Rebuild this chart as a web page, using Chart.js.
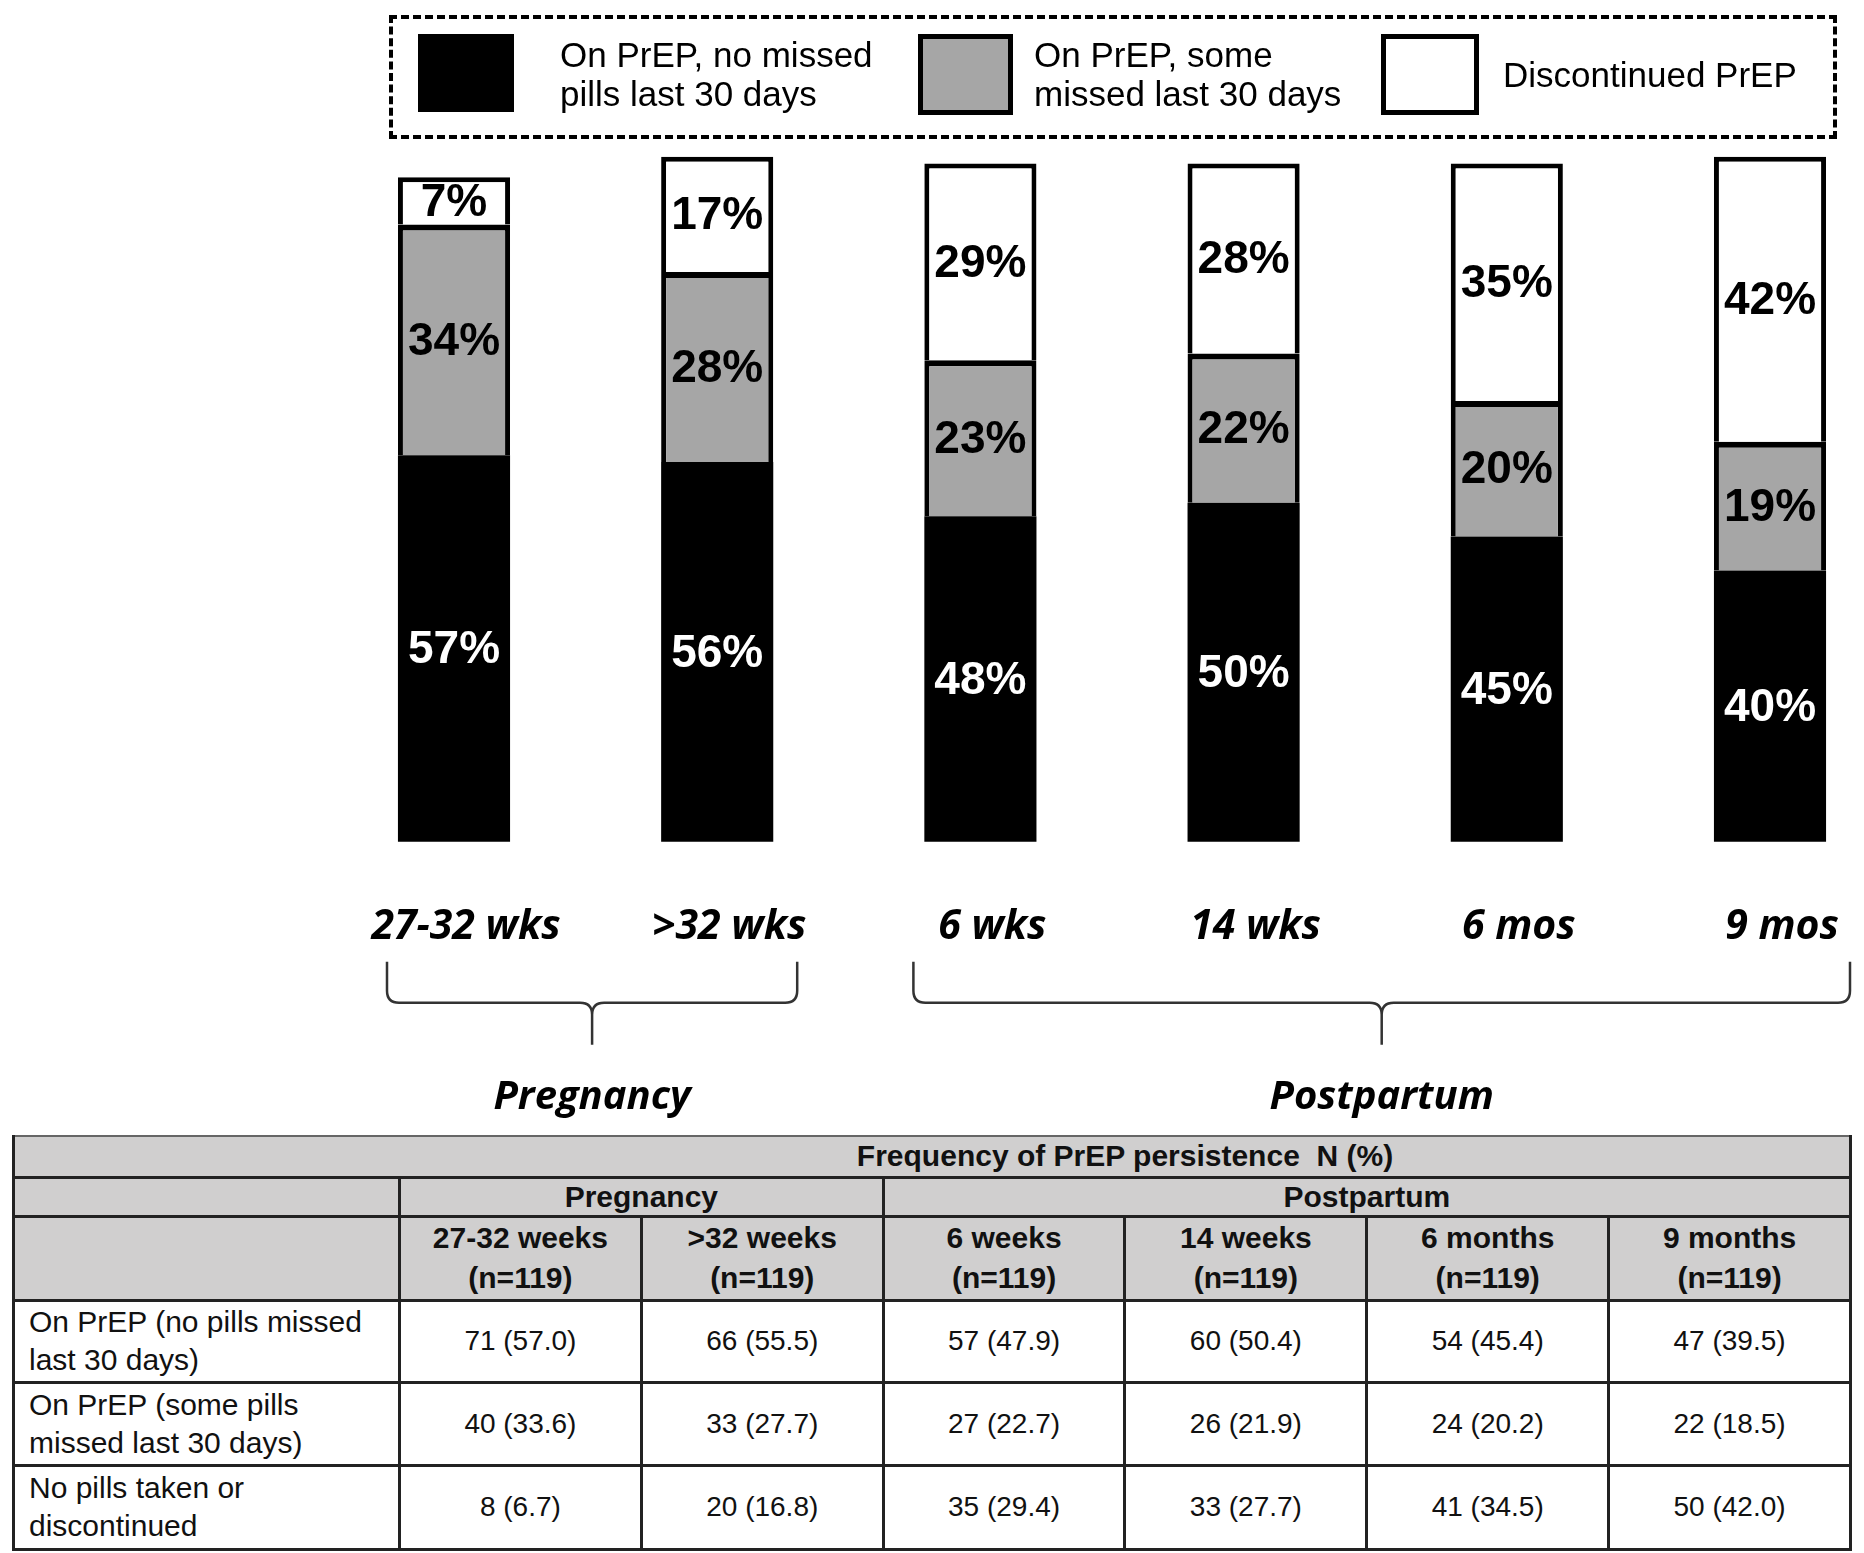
<!DOCTYPE html>
<html>
<head>
<meta charset="utf-8">
<script src="https://cdn.jsdelivr.net/npm/chart.js@4.4.0/dist/chart.umd.min.js"></script>
<style>
    body { margin: 0; background: #fff; }
    #wrap { position: relative; width: 1864px; height: 1553px; overflow: hidden; }
    #chartBox { position: absolute; left: 0; top: 0; width: 1864px; height: 1135px; }
    #legend {
        position: absolute; left: 389px; top: 15px; width: 1448px; height: 124px;
        box-sizing: border-box; border: 4px dashed #000;
        font-family: 'Liberation Sans', Arial, sans-serif; font-size: 35px; color: #000;
    }
    #legend .sw { position: absolute; box-sizing: border-box; }
    #legend .txt { position: absolute; line-height: 39px; white-space: pre; }
    #tbl {
        position: absolute; left: 12px; top: 1135px; width: 1840px;
        border-collapse: collapse; table-layout: fixed;
        font-family: 'Liberation Sans', Arial, sans-serif; color: #111;
    }
    #tbl td { border: 3px solid #222; text-align: center; padding: 0; font-size: 28px; line-height: 36px; }
    #tbl tr.hd td { background: #d0cfcf; font-weight: bold; font-size: 30px; line-height: 32px; }
    #tbl tr.hd2 td { line-height: 40px; }
    #tbl td.rl { text-align: left; padding-left: 14px; font-size: 30px; line-height: 38px; white-space: nowrap; }
</style>
</head>
<body>
<div id="wrap">
    <div id="chartBox"><canvas id="prepChart"></canvas></div>
    <div id="legend"></div>
    <table id="tbl"></table>
</div>
<script>
// chart data (percent, as printed on the bars)
const timepoints = ['27-32 wks', '>32 wks', '6 wks', '14 wks', '6 mos', '9 mos'];
const noMissedPct = [57, 56, 48, 50, 45, 40];
const someMissedPct = [34, 28, 23, 22, 20, 19];
const discontinuedPct = [7, 17, 29, 28, 35, 42];

// brace groups under the axis
const groupLabels = ['Pregnancy', 'Postpartum'];
const groupStart = [0, 2];
const groupEnd = [1, 5];

// table data
const tableTitle = 'Frequency of PrEP persistence\u00a0\u00a0N (%)';
const tableCols = ['27-32 weeks', '>32 weeks', '6 weeks', '14 weeks', '6 months', '9 months'];
const sampleN = [119, 119, 119, 119, 119, 119];
const rowLabels = [
    'On PrEP (no pills missed\nlast 30 days)',
    'On PrEP (some pills\nmissed last 30 days)',
    'No pills taken or\ndiscontinued'
];
const noMissedN = [71, 66, 57, 60, 54, 47];
const noMissedExact = [57.0, 55.5, 47.9, 50.4, 45.4, 39.5];
const someMissedN = [40, 33, 27, 26, 24, 22];
const someMissedExact = [33.6, 27.7, 22.7, 21.9, 20.2, 18.5];
const discontinuedN = [8, 20, 35, 33, 41, 50];
const discontinuedExact = [6.7, 16.8, 29.4, 27.7, 34.5, 42.0];

const GRAY = '#a6a6a6';

// percentage labels in the middle of each segment
const barLabels = {
    id: 'barLabels',
    afterDatasetsDraw(chart) {
        const ctx = chart.ctx;
        ctx.save();
        ctx.font = 'bold 46px "Liberation Sans", Arial, sans-serif';
        ctx.textAlign = 'center';
        ctx.textBaseline = 'middle';
        chart.data.datasets.forEach((ds, i) => {
            chart.getDatasetMeta(i).data.forEach((bar, j) => {
                const p = bar.getProps(['x', 'y', 'base'], true);
                ctx.fillStyle = ds.labelColor;
                ctx.fillText(ds.data[j] + '%', p.x, (p.y + p.base) / 2 + 2);
            });
        });
        ctx.restore();
    }
};

// curly braces + group names below the tick labels
const braces = {
    id: 'braces',
    afterDraw(chart) {
        const ctx = chart.ctx;
        const xs = chart.scales.x;
        const b = chart.chartArea.bottom;
        ctx.save();
        ctx.strokeStyle = '#333';
        ctx.lineWidth = 2.5;
        ctx.fillStyle = '#000';
        ctx.font = 'italic bold 40px "Open Sans", sans-serif';
        ctx.textAlign = 'center';
        ctx.textBaseline = 'middle';
        groupLabels.forEach((label, g) => {
            const l = xs.getPixelForValue(groupStart[g]) - 67;
            const r = xs.getPixelForValue(groupEnd[g]) + 80;
            const m = (l + r) / 2;
            const y0 = b + 120, y1 = b + 161, y2 = b + 203, rad = 12;
            ctx.beginPath();
            ctx.moveTo(l, y0);
            ctx.lineTo(l, y1 - rad);
            ctx.quadraticCurveTo(l, y1, l + rad, y1);
            ctx.lineTo(m - rad, y1);
            ctx.quadraticCurveTo(m, y1, m, y1 + rad);
            ctx.lineTo(m, y2);
            ctx.moveTo(m, y1 + rad);
            ctx.quadraticCurveTo(m, y1, m + rad, y1);
            ctx.lineTo(r - rad, y1);
            ctx.quadraticCurveTo(r, y1, r, y1 - rad);
            ctx.lineTo(r, y0);
            ctx.stroke();
            ctx.fillText(label, m, b + 256);
        });
        ctx.restore();
    }
};

const ctx = document.getElementById('prepChart').getContext('2d');
const prepChart = new Chart(ctx, {
    type: 'bar',
    data: {
        labels: timepoints,
        datasets: [
            {
                label: 'On PrEP, no missed\npills last 30 days',
                data: noMissedPct,
                backgroundColor: '#000',
                borderWidth: 0,
                labelColor: '#fff'
            },
            {
                label: 'On PrEP, some\nmissed last 30 days',
                data: someMissedPct,
                backgroundColor: GRAY,
                borderColor: '#000',
                borderWidth: { top: 6, left: 5, right: 5, bottom: 0 },
                borderSkipped: false,
                labelColor: '#000'
            },
            {
                label: 'Discontinued PrEP',
                data: discontinuedPct,
                backgroundColor: '#fff',
                borderColor: '#000',
                borderWidth: { top: 5, left: 5, right: 5, bottom: 0 },
                borderSkipped: false,
                labelColor: '#000'
            }
        ]
    },
    options: {
        responsive: true,
        maintainAspectRatio: false,
        animation: false,
        layout: { padding: { left: 454, right: 94, top: 150, bottom: 122 } },
        datasets: { bar: { barPercentage: 0.426, categoryPercentage: 1, clip: false } },
        scales: {
            x: {
                stacked: true,
                offset: false,
                grid: { display: false, drawTicks: false },
                border: { display: false },
                // edge labels must not push the plot area inwards
                afterFit: (s) => { s.paddingLeft = 0; s.paddingRight = 0; },
                ticks: {
                    padding: 61,
                    labelOffset: 12,
                    color: '#000',
                    maxRotation: 0,
                    autoSkip: false,
                    font: { family: '"Open Sans"', size: 41, style: 'italic', weight: 'bold' }
                }
            },
            y: { stacked: true, display: false, min: 0, max: 102 }
        },
        plugins: {
            legend: { display: false },
            tooltip: { enabled: false }
        }
    },
    plugins: [barLabels, braces]
});

// HTML legend (dashed box) built from the datasets
const legendPos = [
    { sw: [25, 15, 96, 78], tx: [167, 16] },
    { sw: [525, 15, 95, 81], tx: [641, 16] },
    { sw: [988, 15, 98, 81], tx: [1110, 36] }
];
const legendEl = document.getElementById('legend');
prepChart.data.datasets.forEach((ds, i) => {
    const p = legendPos[i];
    const sw = document.createElement('div');
    sw.className = 'sw';
    sw.style.cssText = `left:${p.sw[0]}px;top:${p.sw[1]}px;width:${p.sw[2]}px;height:${p.sw[3]}px;background:${ds.backgroundColor};` +
        (i > 0 ? 'border:5px solid #000;' : '');
    legendEl.appendChild(sw);
    const tx = document.createElement('div');
    tx.className = 'txt';
    tx.style.left = p.tx[0] + 'px';
    tx.style.top = p.tx[1] + 'px';
    tx.textContent = ds.label;
    legendEl.appendChild(tx);
});

// table
const tbl = document.getElementById('tbl');
const fmt = (n, pct) => `${n} (${pct.toFixed(1)})`;
let html = '<colgroup><col style="width:386px">' + tableCols.map(() => '<col>').join('') + '</colgroup>';
html += `<tr class="hd" style="height:41px"><td colspan="7" style="padding-left:386px;border-top:2px solid #666">${tableTitle}</td></tr>`;
html += '<tr class="hd" style="height:39px"><td></td><td colspan="2">Pregnancy</td><td colspan="4">Postpartum</td></tr>';
html += '<tr class="hd hd2" style="height:84px"><td></td>' +
    tableCols.map((c, i) => `<td>${c.replace('>', '&gt;')}<br>(n=${sampleN[i]})</td>`).join('') + '</tr>';
const rows = [[noMissedN, noMissedExact], [someMissedN, someMissedExact], [discontinuedN, discontinuedExact]];
const rowH = [82, 83, 84];
rows.forEach((r, k) => {
    html += `<tr style="height:${rowH[k]}px"><td class="rl">${rowLabels[k].replace('\n', '<br>')}</td>` +
        r[0].map((n, i) => `<td>${fmt(n, r[1][i])}</td>`).join('') + '</tr>';
});
tbl.innerHTML = html;
</script>
</body>
</html>
